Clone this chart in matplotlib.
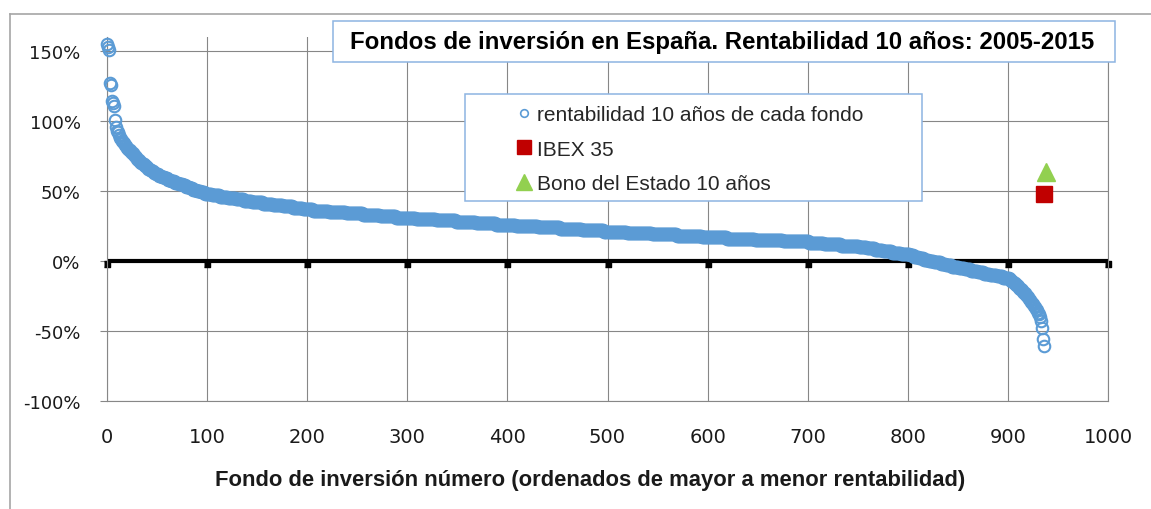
import numpy as np
import matplotlib.pyplot as plt
from matplotlib.lines import Line2D
from matplotlib.patches import Rectangle

# rentabilidad a 10 años de cada fondo (%), ordenada de mayor a menor
rentabilidad = [
    155, 153, 151, 127, 126, 114, 113, 111, 101, 96, 93, 92, 90, 88, 87, 86, 85, 84, 83, 82, 81,
    80, 79, 79, 78, 77, 77, 76, 75, 74, 73, 72, 72, 71, 70, 70, 69, 69, 68, 68, 67,
    66, 66, 65, 65, 64, 64, 63, 63, 62, 62,
    62, 61, 61, 61, 60, 60, 60, 59, 59, 59, 58, 58, 58, 57, 57, 57, 57, 56, 56, 56,
    56, 55, 55, 55, 55, 54, 54, 54, 53, 53, 53, 53, 52, 52, 52, 51, 51, 51, 51, 50,
    50, 50, 50, 49, 49, 49, 49, 48, 48, 48,
    48, 48, 48, 48,
    47, 47, 47, 47, 47, 47, 47, 47,
    46, 46, 46, 46, 46, 46, 46, 46,
    45, 45, 45, 45, 45, 45, 45, 45,
    44, 44, 44, 44, 44, 44, 44, 44,
    43, 43, 43, 43, 43, 43, 43, 43,
    42, 42, 42, 42, 42, 42, 42, 42, 42, 42, 42,
    41, 41, 41, 41, 41, 41, 41, 41, 41, 41,
    40, 40, 40, 40, 40, 40, 40, 40, 40, 40,
    39, 39, 39, 39, 39, 39, 39, 39, 39, 39,
    38, 38, 38, 38, 38, 38, 38, 38, 38, 38,
    37, 37, 37, 37, 37, 37, 37, 37, 37, 37,
    36, 36, 36, 36, 36, 36, 36, 36, 36, 36, 36, 36, 36, 36, 36, 36,
    35, 35, 35, 35, 35, 35, 35, 35, 35, 35, 35, 35, 35, 35, 35, 35, 35,
    34, 34, 34, 34, 34, 34, 34, 34, 34, 34, 34, 34, 34, 34, 34, 34, 34,
    33, 33, 33, 33, 33, 33, 33, 33, 33, 33, 33, 33, 33, 33, 33, 33, 33,
    32, 32, 32, 32, 32, 32, 32, 32, 32, 32, 32, 32, 32, 32, 32, 32,
    31, 31, 31, 31, 31, 31, 31, 31, 31, 31, 31, 31, 31, 31, 31, 31, 31, 31, 31, 31,
    30, 30, 30, 30, 30, 30, 30, 30, 30, 30, 30, 30, 30, 30, 30, 30, 30, 30, 30, 30,
    29, 29, 29, 29, 29, 29, 29, 29, 29, 29, 29, 29, 29, 29, 29, 29, 29, 29, 29, 29,
    28, 28, 28, 28, 28, 28, 28, 28, 28, 28, 28, 28, 28, 28, 28, 28, 28, 28, 28, 28,
    27, 27, 27, 27, 27, 27, 27, 27, 27, 27, 27, 27, 27, 27, 27, 27, 27, 27, 27, 27,
    26, 26, 26, 26, 26, 26, 26, 26, 26, 26, 26, 26, 26, 26, 26, 26, 26, 26, 26, 26,
    25, 25, 25, 25, 25, 25, 25, 25, 25, 25, 25, 25, 25, 25, 25, 25, 25, 25, 25, 25, 25, 25,
    24, 24, 24, 24, 24, 24, 24, 24, 24, 24, 24, 24, 24, 24, 24, 24, 24, 24, 24, 24, 24, 24,
    23, 23, 23, 23, 23, 23, 23, 23, 23, 23, 23, 23, 23, 23, 23, 23, 23, 23, 23, 23, 23, 23,
    22, 22, 22, 22, 22, 22, 22, 22, 22, 22, 22, 22, 22, 22, 22, 22, 22, 22, 22, 22, 22, 22,
    21, 21, 21, 21, 21, 21, 21, 21, 21, 21, 21, 21, 21, 21, 21, 21, 21, 21, 21, 21, 21, 21,
    20, 20, 20, 20, 20, 20, 20, 20, 20, 20, 20, 20, 20, 20, 20, 20, 20, 20, 20, 20, 20, 20, 20, 20, 20,
    19, 19, 19, 19, 19, 19, 19, 19, 19, 19, 19, 19, 19, 19, 19, 19, 19, 19, 19, 19, 19, 19, 19, 19, 19,
    18, 18, 18, 18, 18, 18, 18, 18, 18, 18, 18, 18, 18, 18, 18, 18, 18, 18, 18, 18, 18, 18, 18, 18, 18,
    17, 17, 17, 17, 17, 17, 17, 17, 17, 17, 17, 17, 17, 17, 17, 17, 17, 17, 17, 17, 17, 17, 17, 17, 17,
    16, 16, 16, 16, 16, 16, 16, 16, 16, 16, 16, 16, 16, 16, 16, 16, 16, 16, 16, 16, 16, 16, 16, 16, 16, 16, 16, 16,
    15, 15, 15, 15, 15, 15, 15, 15, 15, 15, 15, 15, 15, 15, 15, 15, 15, 15, 15, 15, 15, 15, 15, 15, 15, 15, 15, 15,
    14, 14, 14, 14, 14, 14, 14, 14, 14, 14, 14, 14, 14, 14, 14, 14, 14, 14, 14, 14, 14, 14, 14, 14, 14, 14,
    13, 13, 13, 13, 13, 13, 13, 13, 13, 13, 13, 13, 13, 13, 13,
    12, 12, 12, 12, 12, 12, 12, 12, 12, 12, 12, 12, 12, 12, 12, 12, 12,
    11, 11, 11, 11, 11, 11, 11, 11, 11, 11, 11, 11, 11, 11, 11, 11, 11, 11,
    10, 10, 10, 10, 10, 10, 10, 10,
    9, 9, 9, 9, 9, 9, 9, 9,
    8, 8, 8, 8, 8, 8, 8, 8,
    7, 7, 7, 7, 7, 7, 7, 7, 7,
    6, 6, 6, 6, 6, 6, 6, 6, 6,
    5, 5, 5, 5, 5, 5, 5, 5,
    5, 4, 4, 4, 4, 3, 3, 3, 3, 3, 2, 2, 2, 2, 2, 1, 1, 1, 1, 1, 0, 0, 0, 0, 0, -1, -1, -1, -1, -1,
    -1, -1, -2, -2, -2, -2, -2, -3, -3, -3, -3, -3, -3, -4, -4, -4, -4, -4, -4, -4,
    -5, -5, -5, -5, -5, -5, -6, -6, -6, -6, -6, -6, -7, -7, -7, -7, -7, -7, -7, -8, -8, -8, -8, -8, -8,
    -9, -9, -9, -9, -9, -9, -10, -10, -10, -10, -10, -10, -10, -11, -11, -11, -11, -11, -11,
    -12, -12, -12, -12, -12, -12,
    -12, -13, -14, -14, -15, -16, -16, -17, -17, -18,
    -19, -20, -20, -21, -22, -23, -23, -24, -25, -26,
    -27, -28, -29, -30, -31, -32, -33, -34, -35, -37,
    -38, -40, -43, -48, -56, -61,
]

ibex_x = [936]
ibex_y = [48]
bono_x = [938]
bono_y = [63.5]

ticks_x = [0, 100, 200, 300, 400, 500, 600, 700, 800, 900, 1000]
ticks_y = [-100, -50, 0, 50, 100, 150]
etiquetas_y = ['-100%', '-50%', '0%', '50%', '100%', '150%']
etiquetas_leyenda = ['rentabilidad 10 años de cada fondo', 'IBEX 35', 'Bono del Estado 10 años']

titulo = 'Fondos de inversión en España. Rentabilidad 10 años: 2005-2015'
eje_x = 'Fondo de inversión número (ordenados de mayor a menor rentabilidad)'

W, H = 1151, 510
azul = '#5b9bd5'
rojo = '#c00000'
verde = '#92d050'
gris = '#878787'
borde = '#8db4e2'

fig = plt.figure(figsize=(W / 100, H / 100), dpi=100)
ax = fig.add_axes([107 / W, 1 - 402 / H, (1108 - 107) / W, (402 - 38) / H])

fondos = np.arange(len(rentabilidad))
ax.axhline(0, color='black', lw=3, zorder=2)
nub = [(-1, 0), (1, 0), (1, -2), (-1, -2)]
ax.plot(ticks_x, np.zeros(len(ticks_x)), ls='none', marker=nub, ms=9, color='black', zorder=2, clip_on=False)
ax.plot(fondos, rentabilidad, ls='none', marker='o', mfc='none', mec=azul, ms=8.3, mew=1.5,
        zorder=3, clip_on=False)
ax.plot(ibex_x, ibex_y, ls='none', marker='s', color=rojo, ms=11.5, zorder=4)
ax.plot(bono_x, bono_y, ls='none', marker='^', color=verde, ms=13, zorder=4)

ax.set_xlim(0, 1000)
ax.set_ylim(-100, 160)
ax.set_xticks(ticks_x)
ax.set_yticks(ticks_y)
ax.set_yticklabels(etiquetas_y)
ax.grid(True, color=gris, lw=0.8)
ax.set_axisbelow(True)
ax.spines['top'].set_visible(False)
for s in ['left', 'right', 'bottom']:
    ax.spines[s].set_color(gris)
    ax.spines[s].set_linewidth(0.8)
ax.tick_params(axis='x', length=0, pad=19, labelsize=14, labelcolor='#1a1a1a')
ax.tick_params(axis='y', length=5, width=0.8, color=gris, pad=14, labelsize=13, labelcolor='#1a1a1a')

# leyenda
handles = [
    Line2D([], [], ls='none', marker='o', mfc='none', mec=azul, ms=5.5, mew=1.2),
    Line2D([], [], ls='none', marker='s', color=rojo, ms=10),
    Line2D([], [], ls='none', marker='^', color=verde, ms=11),
]
ax.add_artist(Rectangle((465 / W, 1 - 202 / H), 457 / W, 107 / H, transform=fig.transFigure,
                        fc='white', ec=borde, lw=1.1, zorder=4.5, clip_on=False))
leg = ax.legend(handles, etiquetas_leyenda, loc='upper left', bbox_to_anchor=(515 / W, 1 - 106 / H),
                bbox_transform=fig.transFigure, frameon=False, borderpad=0, borderaxespad=0,
                handlelength=0.85, handletextpad=0.2, labelspacing=0.75,
                prop={'family': 'Liberation Sans', 'size': 15})
for t in leg.get_texts():
    t.set_color('#262626')

# titulo en caja
ax.add_artist(Rectangle((333 / W, 1 - 63 / H), 782 / W, 41 / H, transform=fig.transFigure,
                        fc='white', ec=borde, lw=1.1, zorder=6, clip_on=False))
t_tit = fig.text(722 / W, 1 - 43 / H, titulo, ha='center', va='center', fontsize=15,
                 fontweight='bold', family='Liberation Sans', color='black')
t_eje = fig.text(590 / W, 1 - 481 / H, eje_x, ha='center', va='center', fontsize=15,
                 fontweight='bold', family='Liberation Sans', color='#1a1a1a')


def ajustar(t, ancho):
    r = fig.canvas.get_renderer()
    w = t.get_window_extent(r).width
    t.set_fontsize(t.get_fontsize() * ancho / w)


ajustar(t_tit, 748)
ajustar(t_eje, 752)

# marco de la figura
fig.add_artist(Line2D([10 / W, 10 / W], [0, 1 - 15 / H], color='#a6a6a6', lw=1.2))
fig.add_artist(Line2D([10 / W, 1], [1 - 15 / H, 1 - 15 / H], color='#a6a6a6', lw=1.2))

fig.savefig('out.png', dpi=100)
